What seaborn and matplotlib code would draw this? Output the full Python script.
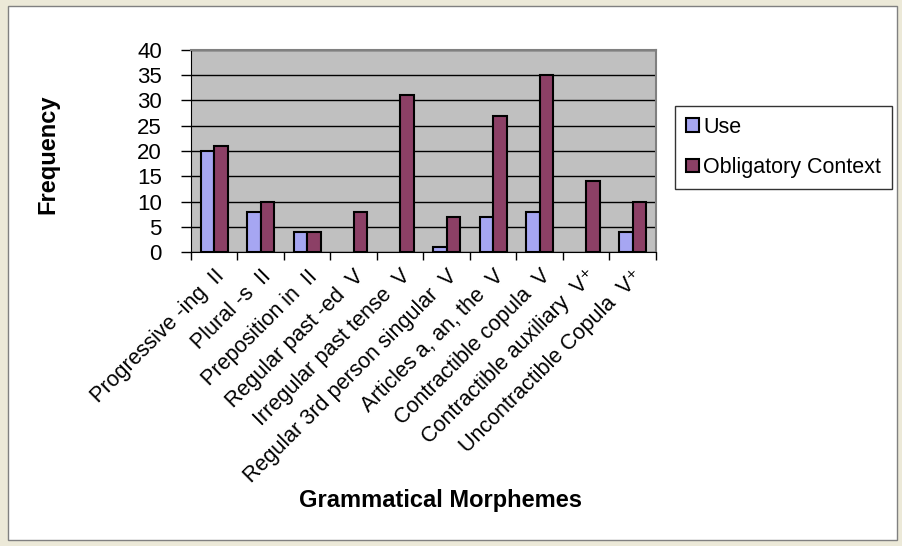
import pandas as pd
import matplotlib.pyplot as plt
import seaborn as sns
from matplotlib.patches import Rectangle

# Data
morphemes = [
    "Progressive -ing  II",
    "Plural -s  II",
    "Preposition in  II",
    "Regular past -ed  V",
    "Irregular past tense  V",
    "Regular 3rd person singular  V",
    "Articles a, an, the  V",
    "Contractible copula  V",
    "Contractible auxiliary  V\u207a",
    "Uncontractible Copula  V\u207a",
]
use = [20, 8, 4, 0, 0, 1, 7, 8, 0, 4]
obligatory = [21, 10, 4, 8, 31, 7, 27, 35, 14, 10]
series = ["Use", "Obligatory Context"]
colors = ["#9999FF", "#993366"]

df = pd.DataFrame({
    "Morpheme": morphemes * 2,
    "Series": [series[0]] * len(use) + [series[1]] * len(obligatory),
    "Frequency": use + obligatory,
})

sns.set_style("white")
plt.rcParams["font.family"] = ["Liberation Sans", "DejaVu Sans"]
plt.rcParams["text.color"] = "black"
plt.rcParams["xtick.color"] = "black"
plt.rcParams["ytick.color"] = "black"

fig = plt.figure(figsize=(9.03, 5.46), dpi=100, facecolor="#ECE9D8")
# white chart area with grey frame
fig.patches.append(Rectangle((8 / 903, 6 / 546), 889 / 903, 534 / 546,
                             transform=fig.transFigure, facecolor="white",
                             edgecolor="#808080", linewidth=1, zorder=-10))

ax = fig.add_axes([191 / 903, 1 - 252 / 546, 465 / 903, 202 / 546])
ax.set_facecolor("#C0C0C0")

sns.barplot(data=df, x="Morpheme", y="Frequency", hue="Series",
            palette=colors, width=0.58, gap=0, edgecolor="black",
            linewidth=1.5, ax=ax, zorder=3)

# zero values show no bar at all
for cont in ax.containers:
    for bar in cont:
        if bar.get_height() == 0:
            bar.set_visible(False)

ax.set_xlim(-0.5, len(morphemes) - 0.5)
ax.set_ylim(0, 40)
ax.set_yticks(range(0, 41, 5))
ax.yaxis.grid(True, color="black", linewidth=1, zorder=1)
ax.set_axisbelow(True)

for side in ["top", "right"]:
    ax.spines[side].set_visible(True)
    ax.spines[side].set_color("#808080")
    ax.spines[side].set_linewidth(1.5)
ax.spines["left"].set_color("black")
ax.spines["bottom"].set_color("black")

ax.tick_params(axis="y", direction="out", length=7, width=1, left=True,
               labelsize=16, pad=14)
ax.set_xticks(range(len(morphemes)))
ax.set_xticklabels(morphemes, rotation=45, ha="right", rotation_mode="anchor",
                   fontsize=15.5)
ax.tick_params(axis="x", which="major", length=0, pad=10)
ax.set_xticks([i - 0.5 for i in range(len(morphemes) + 1)], minor=True)
ax.tick_params(axis="x", which="minor", direction="out", length=6, width=1,
               bottom=True)

ax.set_xlabel("")
ax.set_ylabel("")
fig.text(48 / 903, 1 - 154 / 546, "Frequency", rotation=90, fontsize=17,
         fontweight="bold", ha="center", va="center")
fig.text(441 / 903, 1 - 500 / 546, "Grammatical Morphemes", fontsize=17,
         fontweight="bold", ha="center", va="center")

leg = ax.legend(loc="upper left", bbox_to_anchor=(675 / 903, 1 - 106 / 546),
                bbox_transform=fig.transFigure, frameon=True, fancybox=False,
                fontsize=15.5, handlelength=0.6, handleheight=0.6,
                handletextpad=0.2, labelspacing=0.9, borderpad=0.5,
                borderaxespad=0, edgecolor="black")
leg.get_frame().set_linewidth(1)

fig.savefig("out.png", dpi=100, facecolor=fig.get_facecolor())
